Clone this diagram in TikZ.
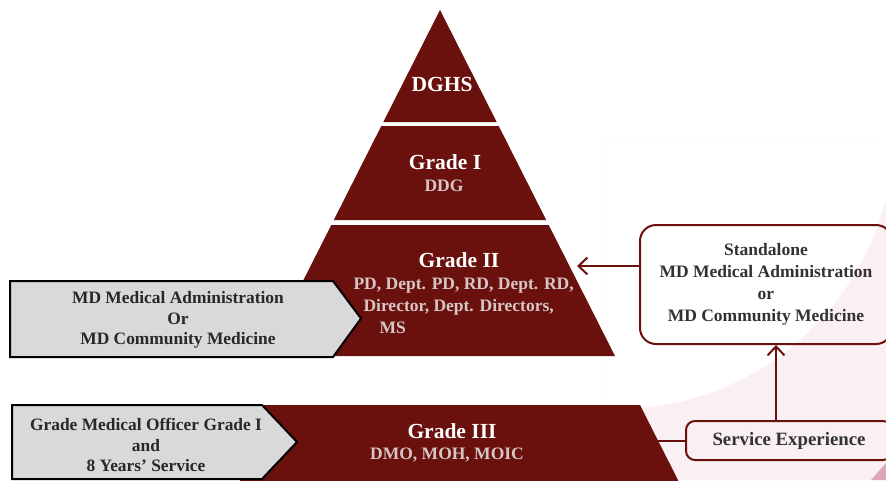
\documentclass[tikz,border=0pt]{standalone}
\usepackage{fontspec}
\setmainfont{Liberation Serif}
\usetikzlibrary{arrows.meta}
\definecolor{maroon}{RGB}{106,16,13}
\definecolor{paletxt}{RGB}{214,198,198}
\definecolor{boxgray}{RGB}{217,217,217}
\definecolor{bgpink}{RGB}{250,239,243}
\definecolor{deeppink}{RGB}{222,166,188}
\definecolor{darktxt}{RGB}{40,40,40}
\definecolor{greytxt}{RGB}{50,50,50}

\begin{document}
\begin{tikzpicture}[x=1pt,y=-1pt,
		tier/.style={fill=maroon},
		title/.style={text=white,font=\fontsize{21.5}{24}\selectfont\bfseries},
		sub/.style={text=paletxt,font=\fontsize{17.5}{22}\selectfont\bfseries,align=center},
		entry/.style={fill=boxgray,draw=black,line width=2pt,line join=miter},
		entrytext/.style={text=darktxt,font=\fontsize{17.4}{20.5}\selectfont\bfseries,align=center},
		route/.style={draw=maroon,line width=2pt,rounded corners=16pt,inner sep=0pt,
			text=greytxt,font=\fontsize{17.5}{22}\selectfont\bfseries,align=center},
		link/.style={draw=maroon,line width=2pt},
		pointer/.style={-{Straight Barb[length=9pt,width=17pt]}}]
	\useasboundingbox (0,0) rectangle (886,480);
	\begin{scope}
		\clip (600,140) rectangle (886,480);
		\fill[bgpink,even odd rule] (600,140) rectangle (886,480) (617,132) circle[radius=277pt];
	\end{scope}
	\fill[deeppink] (871,480) -- (886,463) -- (886,480) -- cycle;

	\fill[tier] (440,10) -- (496.7,122) -- (383.3,122) -- cycle;
	\fill[tier] (381.3,126) -- (498.7,126) -- (546.2,220) -- (333.8,220) -- cycle;
	\fill[tier] (331.3,225) -- (548.7,225) -- (615,356) -- (265,356) -- cycle;
	\fill[tier] (240,405) -- (640,405) -- (679,482) -- (240,482) -- cycle;

	\filldraw[entry] (10,281) -- (333,281) -- (361,318.5) -- (333,357) -- (10,357) -- cycle;
	\filldraw[entry] (12,405) -- (262,405) -- (297,442) -- (262,479) -- (12,479) -- cycle;

	\node(dghs) [title] at (442,84) {DGHS};
	\node(gradeI) [title] at (445,162) {Grade I};
	\node(gradeIsub) [sub] at (444,186) {DDG};
	\node(gradeII) [title] at (459,260) {Grade II};
	\node(gradeIIsub) [sub,anchor=west,align=left] at (350,306)
		{PD, Dept. PD, RD, Dept. RD,\\\hspace*{10pt}Director, Dept. Directors,\\\hspace*{26pt}MS};
	\node(gradeIII) [title] at (452,431) {Grade III};
	\node(gradeIIIsub) [sub] at (447,455) {DMO, MOH, MOIC};

	\node(mdentry) [entrytext] at (178,320) {MD Medical Administration\\Or\\MD Community Medicine};
	\node(moentry) [entrytext] at (146,445)
		{Grade Medical Officer Grade I\\and\\8 Years' Service};

	\node(standalone) [route,minimum width=252pt,minimum height=119pt] at (766,284.5)
		{Standalone\\MD Medical Administration\\or\\MD Community Medicine};
	\node(service) [route,rounded corners=9pt,minimum width=206pt,minimum height=39pt,
		font=\fontsize{18.8}{22}\selectfont\bfseries] at (789,440.5) {Service Experience};

	\coordinate(gradeIIedge) at (577,266);
	\coordinate(gradeIIIedge) at (657,440.5);
	\coordinate(rise) at (776,0);

	\draw[link,pointer] (standalone.west |- gradeIIedge) -- (gradeIIedge);
	\draw[link] (gradeIIIedge) -- (service.west);
	\draw[link,pointer] (service.north -| rise) -- (standalone.south -| rise);
\end{tikzpicture}
\end{document}
